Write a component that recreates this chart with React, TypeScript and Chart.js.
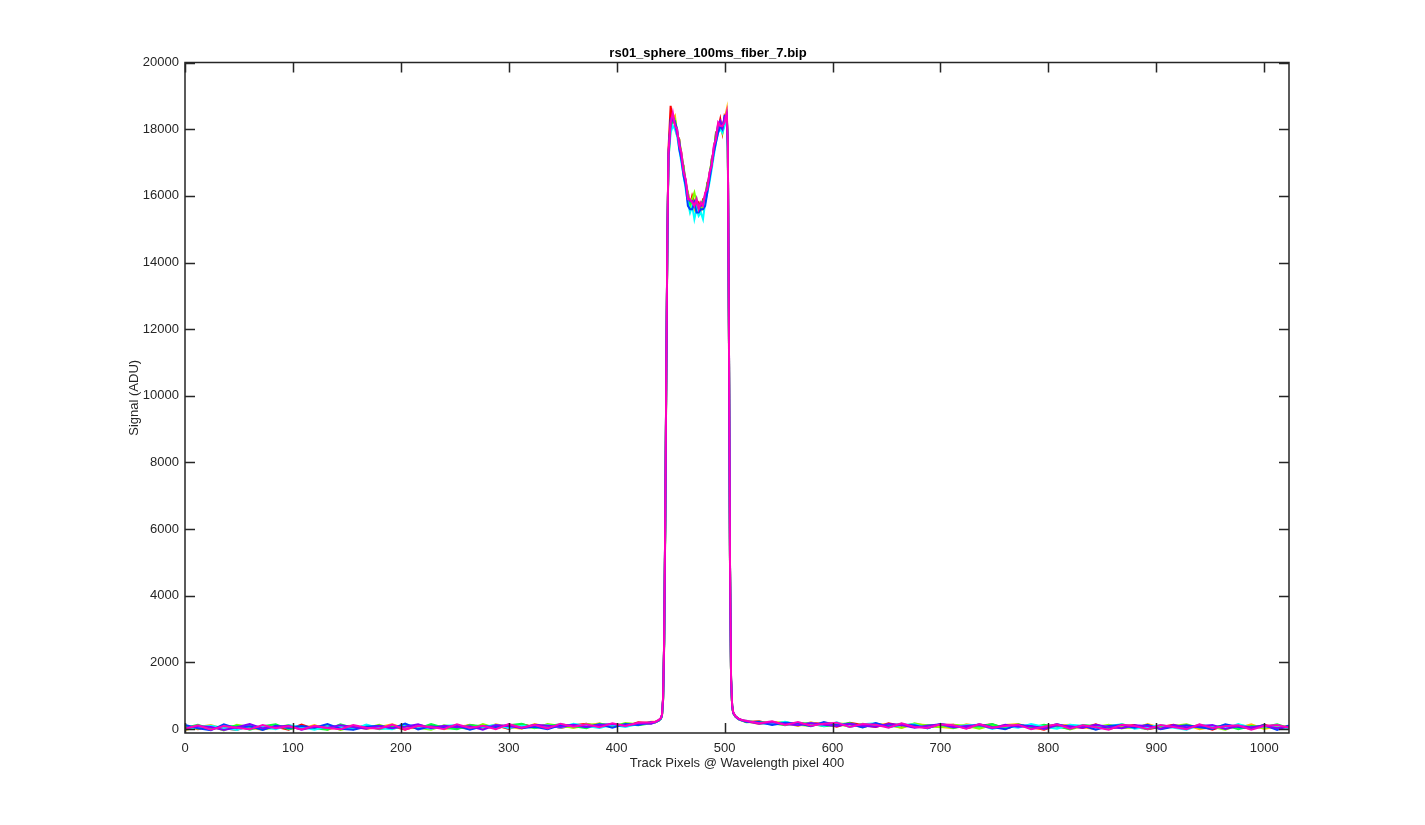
import React, { useEffect, useRef } from "react";
import { Chart, registerables } from "chart.js";

Chart.register(...registerables);

const TITLE = "rs01_sphere_100ms_fiber_7.bip";
const X_LABEL = "Track Pixels @ Wavelength pixel 400";
const Y_LABEL = "Signal (ADU)";

const xTickValues = [0, 100, 200, 300, 400, 500, 600, 700, 800, 900, 1000];
const yTickValues = [0, 2000, 4000, 6000, 8000, 10000, 12000, 14000, 16000, 18000, 20000];

// Track pixel positions (x values) shared by every frame
const trackPixels = [
  0, 12, 24, 36, 48, 60, 72, 84, 96, 108, 120, 132, 144, 156, 168, 180, 192, 204, 216, 228, 240, 252, 264, 276, 288, 300, 312, 324, 336, 348, 360, 372, 384, 396, 408, 420, 432,
  436, 439, 441, 442, 443, 444, 445, 446, 447, 448,
  450, 452, 454, 456, 458, 460, 462, 464, 466, 468, 470, 472, 474, 476, 478, 480, 482, 484, 486, 488, 490, 492, 494, 496, 498, 500, 502,
  503, 504, 505, 506, 507, 508, 510, 513, 516,
  520, 532, 544, 556, 568, 580, 592, 604, 616, 628, 640, 652, 664, 676, 688, 700, 712, 724, 736, 748, 760, 772, 784, 796, 808, 820, 832, 844, 856, 868, 880, 892, 904, 916, 928, 940, 952, 964, 976, 988, 1000, 1012, 1023,
];

const frameRed = [
  100, -10, 80, 20, -30, 110, 10, 70, -20, 130, 0, 90, 40, -10, 110, 30, 80, -20, 120, 50, 90, 10, 130, 40, 110, 0, 140, 60, 130, 30, 110, 160, 60, 150, 80, 200, 170,
  200, 250, 310, 400, 850, 2500, 6000, 10600, 14700, 17400,
  18700, 18200, 18300, 17800, 17700, 17100, 16900, 16300, 16100, 15700, 16000, 15800, 15700, 15800, 15600, 15900, 15900, 16400, 16500, 17100, 17300, 17900, 18000, 18300, 17900, 18400, 18300,
  17400, 11800, 4900, 1450, 680, 470, 370, 290, 250,
  210, 230, 140, 200, 110, 180, 160, 70, 190, 120, 60, 170, 90, 150, 40, 120, 130, 20, 100, 140, 10, 120, 60, -20, 110, 90, 30, 140, 0, 80, 120, -10, 60, 130, 20, 100, -20, 110, 70, 10, 130, 40, 90,
];

const frameOrange = [
  -30, 60, 120, 0, 90, 30, -20, 100, 50, 10, 120, -20, 80, 100, 0, 60, 140, 20, 30, 120, -10, 70, 110, 20, 140, 60, 10, 150, 60, 120, 40, 90, 170, 60, 130, 150, 220,
  215, 265, 325, 410, 920, 2650, 6150, 10750, 14800, 17100,
  18000, 18300, 18400, 17900, 17600, 17300, 16800, 16400, 16000, 15800, 15900, 15600, 15800, 15700, 15700, 15800, 16000, 16300, 16500, 17000, 17400, 17800, 18000, 18200, 18100, 18300, 18600,
  17500, 12000, 5000, 1500, 700, 490, 385, 300, 265,
  230, 150, 220, 180, 90, 200, 100, 170, 140, 50, 160, 120, 30, 150, 110, 60, 20, 140, 90, 30, 120, 150, 40, 10, 100, 130, 50, -10, 110, 80, 20, 150, 40, 70, 120, -10, 60, 100, 30, 140, 0, 80, 60,
];

const frameLime = [
  70, 10, 80, -40, 130, 60, -10, 40, 120, 0, 60, 110, -30, 70, 30, 130, 0, 90, 40, -20, 110, 60, -10, 150, 30, 90, 100, 20, 150, 90, 40, 150, 120, 60, 180, 140, 190,
  205, 255, 315, 415, 880, 2550, 6100, 10700, 14750, 17200,
  18100, 18300, 18300, 17800, 17700, 17200, 16700, 16400, 16100, 15600, 15900, 16100, 15800, 15600, 15700, 15600, 16000, 16200, 16700, 17000, 17300, 17800, 18100, 18200, 17900, 18200, 18400,
  17450, 11950, 4950, 1480, 690, 480, 375, 295, 255,
  240, 190, 160, 210, 130, 90, 190, 150, 70, 160, 100, 130, 40, 170, 80, 50, 130, 100, 10, 120, 60, 140, 30, 80, 120, -10, 90, 60, 130, 20, 50, 110, 0, 90, 140, 30, 60, -20, 120, 70, 30, 100, 20,
];

const frameGreen = [
  40, 130, 0, 60, 100, -20, 80, 140, -10, 70, 20, -20, 140, 30, 90, -10, 60, 110, 10, 150, 40, -10, 120, 80, 20, 110, 160, 30, 90, 140, 80, 20, 160, 110, 140, 110, 170,
  205, 255, 318, 418, 890, 2600, 6200, 10800, 14800, 17200,
  18050, 18250, 18250, 17950, 17550, 17250, 16850, 16350, 15950, 15750, 15850, 15700, 15900, 15500, 15750, 15850, 15950, 16350, 16550, 17050, 17350, 17850, 18050, 18150, 18050, 18250, 18450,
  17500, 12000, 5000, 1500, 700, 480, 380, 300, 260,
  200, 220, 170, 110, 190, 160, 80, 120, 180, 60, 140, 90, 160, 50, 110, 130, 30, 100, 70, 150, 20, 110, 40, 130, 70, 0, 120, 90, 20, 140, 60, -10, 100, 80, 20, 130, 50, 110, -10, 90, 60, 140, 30,
];

const frameCyan = [
  -10, 50, 100, 30, -30, 90, 60, -10, 110, 60, -20, 80, 70, -10, 130, 20, -10, 140, 70, 10, 90, 120, 0, 60, 130, 20, 100, 50, 110, 40, 160, 90, 30, 130, 60, 150, 180,
  200, 250, 310, 405, 860, 2500, 6050, 10650, 14700, 17100,
  17900, 18100, 18000, 17800, 17400, 17000, 16600, 16200, 15800, 15500, 15700, 15300, 15600, 15400, 15500, 15300, 15800, 16100, 16400, 16800, 17200, 17600, 17900, 18000, 17900, 18100, 18300,
  17300, 11900, 4950, 1480, 690, 475, 375, 290, 255,
  250, 180, 140, 220, 120, 170, 90, 200, 60, 140, 170, 50, 120, 140, 20, 160, 60, 110, 130, 0, 90, 40, 150, 70, 10, 130, 100, 30, 90, 140, 10, 60, 120, 40, -20, 110, 90, 20, 150, 30, 70, 110, -10,
];

const frameBlue = [
  120, 20, -40, 140, 20, 80, -30, 100, 30, 90, 40, 150, 10, -20, 70, 100, 20, 160, -10, 80, 40, 100, -20, 90, 60, 130, 20, 70, -10, 120, 110, 60, 140, 40, 150, 120, 210,
  210, 260, 320, 420, 910, 2650, 6250, 10850, 14850, 17250,
  18300, 18400, 18200, 18000, 17400, 17100, 16600, 16300, 15700, 15600, 15600, 15800, 15500, 15500, 15600, 15600, 15700, 16100, 16500, 16900, 17300, 17600, 17900, 18100, 18000, 18400, 18400,
  17550, 12050, 5050, 1520, 710, 490, 385, 305, 265,
  220, 210, 120, 190, 170, 80, 210, 110, 150, 50, 180, 70, 130, 110, 20, 150, 90, 40, 140, 60, -10, 130, 80, 30, 150, 40, 100, -20, 90, 120, 40, 130, -10, 70, 110, 50, 0, 140, 60, 20, 120, -30, 110,
];

const frameViolet = [
  20, 80, 60, -30, 50, 150, 20, 70, 100, -20, 70, 40, 110, 60, 10, 90, 30, 70, 140, 20, 100, 50, 80, -20, 120, 80, 40, 130, 100, 60, 130, 60, 120, 150, 100, 170, 160,
  210, 262, 322, 422, 905, 2620, 6220, 10820, 14820, 17220,
  18150, 18350, 18150, 17850, 17650, 17150, 16750, 16450, 15950, 15850, 15850, 15750, 15850, 15650, 15700, 15750, 16050, 16250, 16650, 16950, 17450, 17750, 18150, 18250, 18050, 18350, 18450,
  17500, 12000, 5000, 1500, 700, 485, 380, 300, 262,
  235, 160, 200, 150, 110, 180, 130, 90, 160, 100, 70, 150, 120, 40, 100, 140, 50, 90, 120, 20, 130, 70, 90, 0, 110, 80, 40, 130, 60, 20, 110, 90, 10, 120, 50, 80, 120, 0, 90, 50, 100, 20, 70,
];

const framePink = [
  10, 110, -20, 90, 40, -10, 120, 20, 80, -15, 100, 30, -5, 120, 40, 10, 130, -10, 90, 60, 0, 140, 30, 100, -5, 150, 40, 120, 20, 160, 70, 140, 50, 170, 90, 190, 200,
  220, 270, 330, 430, 950, 2700, 6300, 10900, 14900, 17300,
  18200, 18500, 18100, 18000, 17500, 17300, 16700, 16500, 15900, 15900, 15800, 15700, 15900, 15600, 15800, 15700, 16100, 16200, 16700, 16900, 17500, 17700, 18200, 18100, 18100, 18200, 18500,
  17600, 12100, 5100, 1550, 720, 500, 390, 310, 270,
  250, 170, 230, 120, 210, 100, 160, 190, 60, 150, 130, 40, 170, 60, 30, 140, 110, 10, 150, 40, 90, 130, -10, 70, 140, 10, 110, 50, -20, 130, 90, 0, 120, 60, -10, 140, 30, 80, 110, -20, 90, 120, 40,
];

// Frames listed bottom-to-top (last one drawn on top)
const frames = [frameRed, frameOrange, frameLime, frameGreen, frameCyan, frameBlue, frameViolet, framePink];
const frameColors = [
  "rgb(255,0,0)",
  "rgb(255,191,0)",
  "rgb(128,255,0)",
  "rgb(0,255,64)",
  "rgb(0,255,255)",
  "rgb(0,64,255)",
  "rgb(128,0,255)",
  "rgb(255,0,191)",
];

const X_MIN = 0;
const X_MAX = 1023;
const Y_MIN = -120;
const Y_MAX = 20000;

const FONT = "'Liberation Sans', Arial, Helvetica, sans-serif";
const AXIS_COLOR = "#262626";

const boxPlugin = {
  id: "matlabBox",
  afterDatasetsDraw(chart: any) {
    const { ctx, chartArea } = chart;
    const { left, right, top, bottom } = chartArea;
    const xs = chart.scales.x;
    const ys = chart.scales.y;
    const tl = 10;
    ctx.save();
    ctx.strokeStyle = AXIS_COLOR;
    ctx.lineWidth = 1.5;
    ctx.beginPath();
    ctx.rect(left, top, right - left, bottom - top);
    ctx.stroke();
    ctx.beginPath();
    xs.ticks.forEach((t: any) => {
      const px = Math.round(xs.getPixelForValue(t.value)) + 0.5;
      ctx.moveTo(px, bottom);
      ctx.lineTo(px, bottom - tl);
      ctx.moveTo(px, top);
      ctx.lineTo(px, top + tl);
    });
    ys.ticks.forEach((t: any) => {
      const py = Math.round(ys.getPixelForValue(t.value)) + 0.5;
      ctx.moveTo(left, py);
      ctx.lineTo(left + tl, py);
      ctx.moveTo(right, py);
      ctx.lineTo(right - tl, py);
    });
    ctx.stroke();
    ctx.restore();
  },
};

export default function App() {
  const canvasRef = useRef<HTMLCanvasElement | null>(null);

  useEffect(() => {
    document.body.style.margin = "0";
    const canvas = canvasRef.current;
    if (!canvas) return;
    const datasets = frames
      .map((vals, i) => ({
        label: `frame ${i + 1}`,
        data: vals.map((v, j) => ({ x: trackPixels[j], y: v })),
        borderColor: frameColors[i],
        backgroundColor: frameColors[i],
        borderWidth: 2,
        pointRadius: 0,
        tension: 0,
        fill: false,
      }))
      .reverse();

    const chart = new Chart(canvas, {
      type: "line",
      data: { datasets },
      options: {
        responsive: false,
        animation: false,
        devicePixelRatio: 1,
        layout: { padding: { left: 127, right: 136, top: 0, bottom: 54 } },
        plugins: {
          legend: { display: false },
          tooltip: { enabled: false },
          title: {
            display: true,
            text: TITLE,
            color: "#000000",
            font: { family: FONT, size: 13, weight: "bold" },
            padding: { top: 45.5, bottom: 1.5 },
          },
        },
        scales: {
          x: {
            type: "linear",
            min: X_MIN,
            max: X_MAX,
            grid: { display: false, drawTicks: false },
            border: { display: false },
            afterBuildTicks(scale: any) {
              scale.ticks = xTickValues.map((v) => ({ value: v }));
            },
            ticks: {
              color: AXIS_COLOR,
              font: { family: FONT, size: 13 },
              padding: 8,
              maxRotation: 0,
              autoSkip: false,
              callback: (v: any) => String(v),
            },
            title: {
              display: true,
              text: X_LABEL,
              color: AXIS_COLOR,
              font: { family: FONT, size: 13 },
              padding: 0,
            },
            afterFit(scale: any) {
              scale.height = 38;
            },
          },
          y: {
            type: "linear",
            min: Y_MIN,
            max: Y_MAX,
            grid: { display: false, drawTicks: false },
            border: { display: false },
            afterBuildTicks(scale: any) {
              scale.ticks = yTickValues.map((v) => ({ value: v }));
            },
            ticks: {
              color: AXIS_COLOR,
              font: { family: FONT, size: 13 },
              padding: 6,
              autoSkip: false,
              callback: (v: any) => String(v),
            },
            title: {
              display: true,
              text: Y_LABEL,
              color: AXIS_COLOR,
              font: { family: FONT, size: 13 },
              padding: 0,
            },
            afterFit(scale: any) {
              scale.width = 58;
            },
          },
        },
      },
      plugins: [boxPlugin],
    });
    return () => chart.destroy();
  }, []);

  return (
    <div style={{ position: "absolute", left: 0, top: 0, width: 1425, height: 825, background: "#ffffff" }}>
      <canvas ref={canvasRef} width={1425} height={825} />
    </div>
  );
}
